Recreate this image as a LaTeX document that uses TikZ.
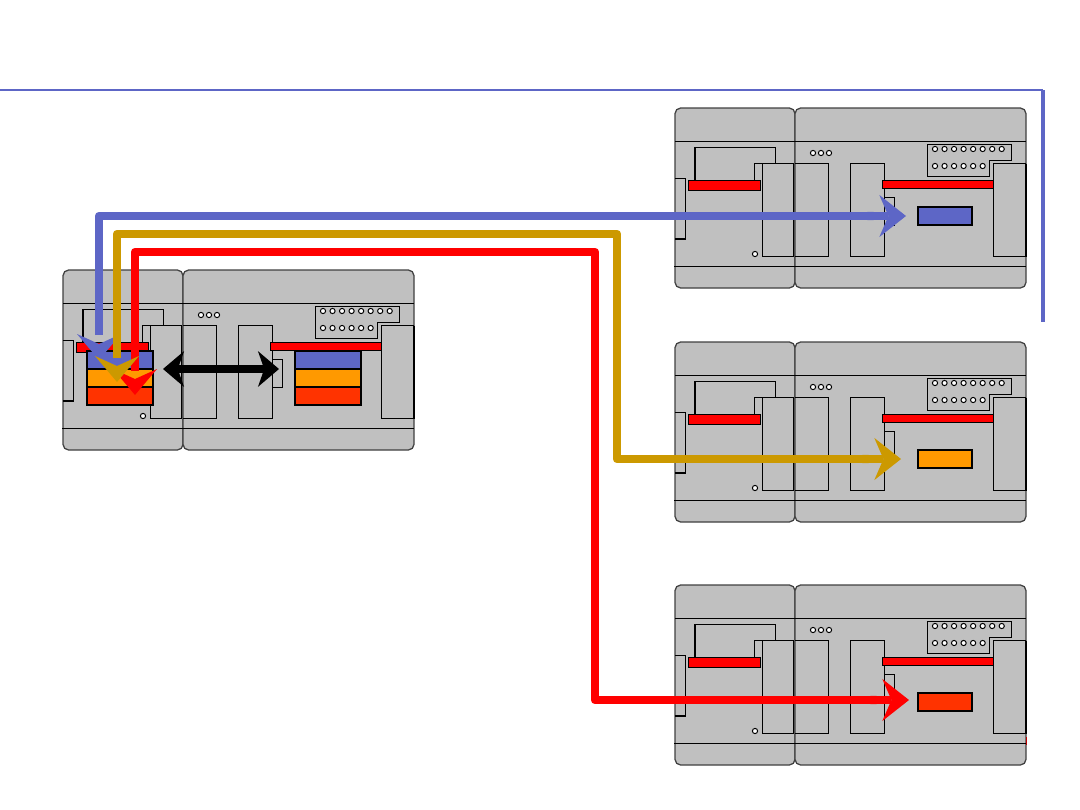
\documentclass[tikz,border=0pt]{standalone}
\usepackage{xcolor}
\usetikzlibrary{arrows.meta}
\definecolor{plcgray}{HTML}{C0C0C0}
\definecolor{plcblue}{HTML}{5D66C6}
\definecolor{plcgold}{HTML}{CC9900}
\definecolor{plcorange}{HTML}{FF9900}
\definecolor{plcscarlet}{HTML}{FF3300}
\tikzset{
  thinline/.style={line width=0.6pt,draw=black},
  casing/.style={line width=0.9pt,draw=black!75,fill=plcgray,rounded corners=4pt},
  redbar/.style={thinline,fill=red},
  hole/.style={line width=0.7pt,draw=black,fill=white},
  memcell/.style={draw=black,line width=1.5pt,inner sep=0pt,minimum height=12.8pt},
  widecell/.style={memcell,minimum width=46.8pt},
  slotcell/.style={memcell,minimum width=38.3pt},
  signal/.style={line width=6pt,line join=round,
    -{Butt Cap[length=0pt,sep=4pt]Stealth[length=19pt,width=30pt,inset=6.5pt,line width=0pt]}},
}
% head pointing down, tip at the named coordinate
\def\downhead[#1](#2){\fill[#1] (#2)--++(22,-26)--++(-22,10)--++(-22,-10)--cycle}
% one controller: narrow module and wide module, #1,#2 is the upper left corner
\def\plcunit(#1,#2){
  \begin{scope}[shift={(#1,#2)}]
    \draw[casing] (0,0) rectangle (120,180);
    \draw[casing] (120,0) rectangle (351,180);
    \draw[thinline] (0,33)--(351,33);
    \draw[thinline] (-1,158)--(351,158);
    % left connector
    \draw[thinline] (0,70)--(10,70)--(10,131)--(0,131);
    \draw[line width=1.1pt] (0,131)--(10,131);
    % cover and terminals
    \draw[thinline] (79,73)--(79,55.5)--(100,55.5)--(100,39)--(20,39)--(20,73);
    \draw[line width=1.1pt] (20,39)--(20,73);
    \draw[thinline] (252.5,36)--(336,36)--(336,52)--(314,52)--(314,68)--(252.5,68)--cycle;
    \foreach \i in {0,...,7} \draw[hole] ({260+9.53*\i},41) circle (2.6);
    \foreach \i in {0,...,5} \draw[hole] ({260+9.53*\i},58) circle (2.6);
    \foreach \x in {138,146,154} \draw[hole] (\x,45) circle (2.6);
    \draw[hole] (80,146) circle (2.6);
    % slots
    \draw[thinline] (87,55.5) rectangle (118,148.5);
    \draw[thinline] (120,55.5)--(153,55.5)--(153,148.5)--(120,148.5);
    \draw[thinline] (175,55.5) rectangle (209,148.5);
    \draw[thinline] (209,89) rectangle (219,117);
    \draw[thinline] (351,55.5)--(318.5,55.5)--(318.5,148.5)--(351,148.5);
    \draw[line width=0.9pt] (351,55.5)--(351,148.5);
    \draw[redbar] (13.5,72.5) rectangle (85.5,82);
    \draw[redbar] (207.5,72.5) rectangle (318.5,80.5);
  \end{scope}
}
\begin{document}
\begin{tikzpicture}[x=0.025cm,y=-0.025cm]
  \useasboundingbox (0,0) rectangle (1080,810);
  % frame
  \draw[plcblue,line width=1.5pt] (0,90)--(1043,90);
  \draw[plcblue,line width=2.2pt] (1043,90)--(1043,322);

  \plcunit(63,270)
  \plcunit(675,108)
  \plcunit(675,342)
  \plcunit(675,585)
  \draw[red!75!black,line width=0.8pt] (1026.5,737)--(1026.5,745);

  % memory of the sending unit
  \node[widecell,fill=plcblue] (srcblue) at (120,360) {};
  \node[widecell,fill=plcorange] (srcorange) at (120,378) {};
  \node[widecell,fill=plcscarlet] (srcred) at (120,396) {};
  \node[widecell,fill=plcblue] (cpyblue) at (328,360) {};
  \node[widecell,fill=plcorange] (cpyorange) at (328,378) {};
  \node[widecell,fill=plcscarlet] (cpyred) at (328,396) {};
  % memory of the receiving units
  \node[slotcell,fill=plcblue] (slotblue) at (945,216) {};
  \node[slotcell,fill=plcorange] (slotorange) at (945,459) {};
  \node[slotcell,fill=plcscarlet] (slotred) at (945,702) {};

  \coordinate (busL) at (163,369);
  \coordinate (busR) at (279,369);
  \coordinate (redTip) at (135,395);
  \coordinate (redA) at (135,371);
  \coordinate (redT) at (595,252);
  \coordinate (redB) at (909,700);
  \coordinate (blueTip) at (99,360);
  \coordinate (blueA) at (99,335);
  \coordinate (blueB) at (906,216);
  \coordinate (goldTip) at (117,382);
  \coordinate (goldA) at (117,358);
  \coordinate (goldT) at (617,234);
  \coordinate (goldB) at (901,459);

  \draw[line width=5pt,{Stealth[length=15pt,width=25.5pt,inset=4.5pt,line width=0pt]}-{Stealth[length=15pt,width=25.5pt,inset=4.5pt,line width=0pt]}] (busL)--(busR);
  \downhead[red](redTip);
  \draw[signal,red] (redA) |- (redT) |- (redB);
  \downhead[plcblue](blueTip);
  \draw[signal,plcblue] (blueA) |- (blueB);
  \downhead[plcgold](goldTip);
  \draw[signal,plcgold] (goldA) |- (goldT) |- (goldB);
\end{tikzpicture}
\end{document}
